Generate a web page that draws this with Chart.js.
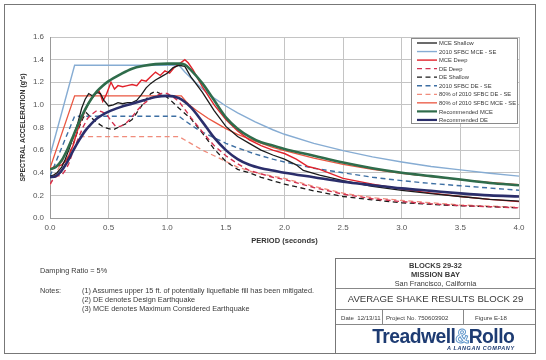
<!DOCTYPE html>
<html><head><meta charset="utf-8">
<script src="https://cdn.jsdelivr.net/npm/chart.js@4"></script>
<style>
html,body{margin:0;padding:0;background:#fff;}
#wrap{position:relative;width:546px;height:360px;overflow:hidden;font-family:"Liberation Sans",Arial,sans-serif;color:#3a3a3a;}
#c{position:absolute;left:0;top:0;}
.frame{position:absolute;left:4px;top:4px;width:532px;height:350px;border:1px solid #777;box-sizing:border-box;}
.t{position:absolute;white-space:nowrap;font-size:7.3px;line-height:9px;}
.tb{position:absolute;left:335px;top:258px;width:201px;height:96px;border:1px solid #777;box-sizing:border-box;}
.hl{position:absolute;left:0;width:199px;height:0;border-top:1px solid #888;}
.vl{position:absolute;top:51px;height:15px;width:0;border-left:1px solid #888;}
.ctr{position:absolute;left:0;width:199px;text-align:center;white-space:nowrap;}
</style></head>
<body><div id="wrap">
<canvas id="c" width="546" height="360"></canvas>
<div class="frame"></div>
<div class="t" style="left:40px;top:266px;">Damping Ratio = 5%</div>
<div class="t" style="left:40px;top:286px;">Notes:</div>
<div class="t" style="left:82px;top:286px;">(1) Assumes upper 15 ft. of potentially liquefiable fill has been mitigated.</div>
<div class="t" style="left:82px;top:295px;">(2) DE denotes Design Earthquake</div>
<div class="t" style="left:82px;top:304px;">(3) MCE denotes Maximum Considered Earthquake</div>
<div class="tb">
  <div class="ctr" style="top:2px;font-size:7.5px;font-weight:bold;line-height:9px;">BLOCKS 29-32</div>
  <div class="ctr" style="top:11px;font-size:7.5px;font-weight:bold;line-height:9px;">MISSION BAY</div>
  <div class="ctr" style="top:20px;font-size:7.3px;line-height:9px;">San Francisco, California</div>
  <div class="hl" style="top:29px;"></div>
  <div class="ctr" style="top:34px;font-size:9.6px;line-height:12px;">AVERAGE SHAKE RESULTS BLOCK 29</div>
  <div class="hl" style="top:50px;"></div>
  <div class="t" style="left:5px;top:54px;font-size:6.1px;">Date&nbsp; 12/13/11</div>
  <div class="vl" style="left:46px;"></div>
  <div class="t" style="left:50px;top:54px;font-size:6.1px;">Project No. 750603902</div>
  <div class="vl" style="left:127px;"></div>
  <div class="t" style="left:139px;top:54px;font-size:6.1px;">Figure E-18</div>
  <div class="hl" style="top:65px;"></div>
  <div class="ctr" style="top:66px;left:8px;font-size:21px;line-height:22px;font-weight:bold;color:#1d3b72;letter-spacing:-0.6px;"><span style="display:inline-block;transform:scaleX(0.92);">Treadwell<span style="color:#fff;-webkit-text-stroke:1px #5b93c9;">&amp;</span>Rollo</span></div>
  <div class="t" style="left:111px;top:86px;font-size:5.5px;line-height:7px;font-weight:bold;font-style:italic;color:#1d3b72;letter-spacing:0.6px;">A LANGAN COMPANY</div>
</div>
</div>
<script>
// ---- data (period in seconds, Sa in g) ----
const xTicks = [0.0, 0.5, 1.0, 1.5, 2.0, 2.5, 3.0, 3.5, 4.0];
const yTicks = [0.0, 0.2, 0.4, 0.6, 0.8, 1.0, 1.2, 1.4, 1.6];

const tMceShallow = [0,0.03,0.06,0.1,0.13,0.16,0.2,0.24,0.27,0.3,0.33,0.36,0.4,0.43,0.46,0.5,0.54,0.58,0.62,0.66,0.7,0.74,0.78,0.82,0.86,0.9,0.95,1.0,1.05,1.1,1.15,1.2,1.3,1.4,1.5,1.6,1.7,1.8,1.9,2.0,2.1,2.16,2.3,2.5,2.75,3.0,3.25,3.5,3.75,4.0];
const mceShallow  = [0.37,0.38,0.40,0.45,0.52,0.60,0.72,0.85,0.97,1.05,1.10,1.08,1.11,1.10,1.04,0.99,1.00,1.02,1.01,1.02,1.02,1.04,1.09,1.15,1.19,1.22,1.25,1.28,1.33,1.35,1.34,1.25,1.11,0.95,0.81,0.72,0.66,0.60,0.557,0.52,0.47,0.42,0.38,0.33,0.28,0.245,0.215,0.19,0.165,0.15];

const tSfbcMce = [0,0.21,1.1,1.15,1.2,1.25,1.3,1.35,1.4,1.5,1.6,1.75,1.9,2.0,2.25,2.5,2.75,3.0,3.25,3.5,3.75,4.0];
const sfbcMce  = [0.55,1.35,1.35,1.29,1.24,1.19,1.14,1.10,1.06,0.99,0.93,0.85,0.78,0.74,0.66,0.595,0.54,0.495,0.455,0.425,0.395,0.37];

const tMceDeep = [0,0.03,0.06,0.1,0.13,0.16,0.2,0.23,0.26,0.3,0.33,0.36,0.39,0.42,0.45,0.48,0.52,0.55,0.58,0.62,0.66,0.7,0.74,0.78,0.82,0.86,0.9,0.94,0.98,1.02,1.06,1.1,1.15,1.18,1.22,1.3,1.4,1.5,1.6,1.7,1.8,1.9,2.0,2.1,2.2,2.3,2.5,2.75,3.0,3.25,3.5,3.75,4.0];
const mceDeep  = [0.43,0.45,0.46,0.47,0.50,0.55,0.65,0.76,0.85,0.95,1.02,1.06,1.10,1.12,1.03,1.09,1.20,1.14,1.17,1.16,1.17,1.18,1.17,1.22,1.21,1.25,1.29,1.26,1.30,1.28,1.33,1.36,1.40,1.37,1.31,1.16,1.00,0.87,0.77,0.69,0.64,0.60,0.57,0.52,0.455,0.43,0.35,0.30,0.255,0.22,0.19,0.165,0.145];

const tDeDeep = [0,0.03,0.06,0.1,0.13,0.16,0.2,0.24,0.28,0.32,0.36,0.4,0.44,0.48,0.52,0.56,0.6,0.64,0.68,0.72,0.76,0.8,0.85,0.9,0.95,1.0,1.05,1.1,1.2,1.3,1.4,1.5,1.6,1.7,1.8,1.9,2.0,2.25,2.5,2.75,3.0,3.25,3.5,3.75,4.0];
const deDeep  = [0.30,0.35,0.37,0.38,0.42,0.48,0.60,0.70,0.80,0.88,0.92,0.95,0.94,0.92,0.86,0.81,0.81,0.83,0.87,0.92,0.97,1.01,1.05,1.08,1.10,1.10,1.07,1.03,0.89,0.76,0.64,0.55,0.48,0.42,0.39,0.36,0.34,0.27,0.21,0.17,0.145,0.125,0.11,0.10,0.09];

const tDeShallow = [0,0.03,0.06,0.1,0.13,0.16,0.2,0.24,0.28,0.31,0.34,0.38,0.42,0.46,0.5,0.54,0.58,0.62,0.66,0.7,0.74,0.78,0.82,0.86,0.9,0.94,0.98,1.02,1.06,1.1,1.2,1.3,1.4,1.5,1.6,1.7,1.8,1.9,2.0,2.25,2.5,2.75,3.0,3.25,3.5,3.75,4.0];
const deShallow  = [0.36,0.37,0.38,0.41,0.47,0.55,0.66,0.78,0.88,0.93,0.90,0.86,0.83,0.80,0.79,0.78,0.80,0.82,0.84,0.87,0.93,0.99,1.05,1.10,1.12,1.10,1.08,1.05,1.01,0.97,0.88,0.75,0.61,0.50,0.43,0.40,0.36,0.33,0.30,0.24,0.19,0.16,0.135,0.12,0.108,0.10,0.09];

const tSfbcDe = [0,0.21,1.1,1.15,1.2,1.25,1.3,1.35,1.4,1.5,1.6,1.75,1.9,2.0,2.25,2.5,2.75,3.0,3.25,3.5,3.75,4.0];
const sfbcDe  = [0.37,0.90,0.90,0.86,0.825,0.79,0.76,0.735,0.71,0.66,0.62,0.565,0.52,0.495,0.44,0.40,0.36,0.33,0.305,0.285,0.265,0.245];

const tSfbcDe80 = [0,0.21,1.1,1.15,1.2,1.25,1.3,1.4,1.5,1.6,1.75,1.9,2.0,2.25,2.5,2.75,3.0,3.5,4.0];
const sfbcDe80  = [0.29,0.72,0.72,0.69,0.66,0.63,0.60,0.55,0.50,0.45,0.40,0.37,0.35,0.28,0.22,0.18,0.155,0.115,0.095];

const tSfbcMce80 = [0,0.21,1.12,1.16,1.2,1.25,1.3,1.35,1.4,1.5,1.6,1.75,1.9,2.0,2.25,2.5,2.75,3.0,3.25,3.5,3.75,4.0];
const sfbcMce80  = [0.44,1.08,1.08,1.03,0.99,0.95,0.915,0.88,0.85,0.79,0.74,0.68,0.625,0.595,0.53,0.475,0.43,0.395,0.365,0.34,0.315,0.295];

const tRecMce = [0,0.05,0.1,0.15,0.2,0.25,0.3,0.35,0.4,0.45,0.5,0.6,0.7,0.8,0.9,1.0,1.1,1.15,1.2,1.3,1.4,1.5,1.6,1.7,1.8,1.9,2.0,2.25,2.5,2.75,3.0,3.25,3.5,3.75,4.0];
const recMce  = [0.43,0.45,0.51,0.61,0.73,0.85,0.96,1.05,1.12,1.17,1.21,1.27,1.32,1.345,1.36,1.365,1.365,1.355,1.31,1.19,1.04,0.89,0.79,0.72,0.67,0.64,0.61,0.55,0.49,0.44,0.40,0.37,0.34,0.31,0.29];

const tRecDe = [0,0.05,0.1,0.15,0.2,0.25,0.3,0.35,0.4,0.5,0.6,0.7,0.8,0.9,1.0,1.1,1.2,1.3,1.4,1.5,1.6,1.7,1.8,1.9,2.0,2.25,2.5,2.75,3.0,3.25,3.5,3.75,4.0];
const recDe  = [0.36,0.37,0.42,0.50,0.60,0.69,0.77,0.83,0.88,0.94,0.98,1.01,1.04,1.07,1.08,1.06,0.98,0.85,0.71,0.60,0.52,0.47,0.44,0.42,0.40,0.36,0.32,0.29,0.262,0.24,0.218,0.20,0.19];

const seriesNames = ['MCE Shallow','2010 SFBC MCE - SE','MCE Deep','DE Deep','DE Shallow','2010 SFBC DE - SE','80% of 2010 SFBC DE - SE','80% of 2010 SFBC MCE - SE','Recommended MCE','Recommended DE'];

function pts(xs, ys){ return xs.map((x,i)=>({x:x, y:ys[i]})); }

const dash = [5,3.5];
const datasets = [
  {label:seriesNames[0], data:pts(tMceShallow,mceShallow), borderColor:'#1b1b1b', borderWidth:1.3, order:2},
  {label:seriesNames[1], data:pts(tSfbcMce,sfbcMce), borderColor:'#86acd3', borderWidth:1.4, order:3},
  {label:seriesNames[2], data:pts(tMceDeep,mceDeep), borderColor:'#e1222b', borderWidth:1.4, order:2},
  {label:seriesNames[3], data:pts(tDeDeep,deDeep), borderColor:'#d3314f', borderWidth:1.4, borderDash:dash, order:2},
  {label:seriesNames[4], data:pts(tDeShallow,deShallow), borderColor:'#1b1b1b', borderWidth:1.3, borderDash:dash, order:2},
  {label:seriesNames[5], data:pts(tSfbcDe,sfbcDe), borderColor:'#3d6fa3', borderWidth:1.4, borderDash:dash, order:3},
  {label:seriesNames[6], data:pts(tSfbcDe80,sfbcDe80), borderColor:'#f08c7c', borderWidth:1.3, borderDash:dash, order:3},
  {label:seriesNames[7], data:pts(tSfbcMce80,sfbcMce80), borderColor:'#ea5640', borderWidth:1.3, order:3},
  {label:seriesNames[8], data:pts(tRecMce,recMce), borderColor:'#2f6c4b', borderWidth:2.6, order:1, cubicInterpolationMode:'monotone'},
  {label:seriesNames[9], data:pts(tRecDe,recDe), borderColor:'#2b2e6b', borderWidth:2.6, order:1, cubicInterpolationMode:'monotone'}
];
datasets.forEach(d=>{ d.pointRadius=0; d.fill=false; d.borderCapStyle='butt'; });

const legendBox = {
  id:'legendBox',
  afterDatasetsDraw(chart){
    const ctx = chart.ctx, a = chart.chartArea;
    const x0 = a.right - 108, y0 = a.top + 1, w = 107, h = 86;
    ctx.save();
    ctx.fillStyle = '#fff'; ctx.fillRect(x0, y0, w, h);
    ctx.strokeStyle = '#8a8a8a'; ctx.lineWidth = 1; ctx.setLineDash([]);
    ctx.strokeRect(x0 + 0.5, y0 + 0.5, w - 1, h - 1);
    chart.data.datasets.forEach((d, i) => {
      const y = y0 + 5 + i * 8.55;
      ctx.beginPath();
      ctx.setLineDash(d.borderDash || []);
      ctx.strokeStyle = d.borderColor;
      ctx.lineWidth = Math.min(d.borderWidth, 2.2);
      ctx.moveTo(x0 + 6, y); ctx.lineTo(x0 + 26, y); ctx.stroke();
      ctx.setLineDash([]);
      ctx.fillStyle = '#3a3a3a';
      ctx.font = '5.8px "Liberation Sans", Arial, sans-serif';
      ctx.textBaseline = 'middle'; ctx.textAlign = 'left';
      ctx.fillText(d.label, x0 + 28, y + 0.5);
    });
    ctx.restore();
  }
};

new Chart(document.getElementById('c'), {
  type:'line',
  data:{ datasets: datasets },
  plugins:[legendBox],
  options:{
    responsive:false, animation:false, events:[],
    layout:{ padding:{ left:19, top:37, right:27, bottom:112 } },
    plugins:{ legend:{display:false}, tooltip:{enabled:false}, title:{display:false} },
    elements:{ line:{ tension:0 } },
    scales:{
      x:{ type:'linear', min:xTicks[0], max:xTicks[xTicks.length-1],
          afterBuildTicks: s => { s.ticks = xTicks.map(v => ({value:v})); },
          afterFit: s => { s.height = 30; },
          ticks:{ callback: v => Number(v).toFixed(1), font:{size:8, family:'"Liberation Sans", Arial, sans-serif'}, color:'#555', padding:5, maxRotation:0, autoSkip:false },
          grid:{ color:'#c4c4c4', lineWidth:1, drawTicks:false },
          border:{ color:'#999' },
          title:{ display:true, text:'PERIOD (seconds)', color:'#333', font:{size:7.5, weight:'bold', family:'"Liberation Sans", Arial, sans-serif'}, padding:{top:0, bottom:3} } },
      y:{ type:'linear', min:yTicks[0], max:yTicks[yTicks.length-1],
          afterBuildTicks: s => { s.ticks = yTicks.map(v => ({value:v})); },
          afterFit: s => { s.width = 31; },
          ticks:{ callback: v => Number(v).toFixed(1), font:{size:8, family:'"Liberation Sans", Arial, sans-serif'}, color:'#555', padding:6, autoSkip:false },
          grid:{ color:'#c4c4c4', lineWidth:1, drawTicks:false },
          border:{ color:'#999' },
          title:{ display:true, text:"SPECTRAL ACCELERATION (g's)", color:'#333', font:{size:6.8, weight:'bold', family:'"Liberation Sans", Arial, sans-serif'}, padding:{top:0, bottom:0} } }
    }
  }
});
</script>
</body></html>
